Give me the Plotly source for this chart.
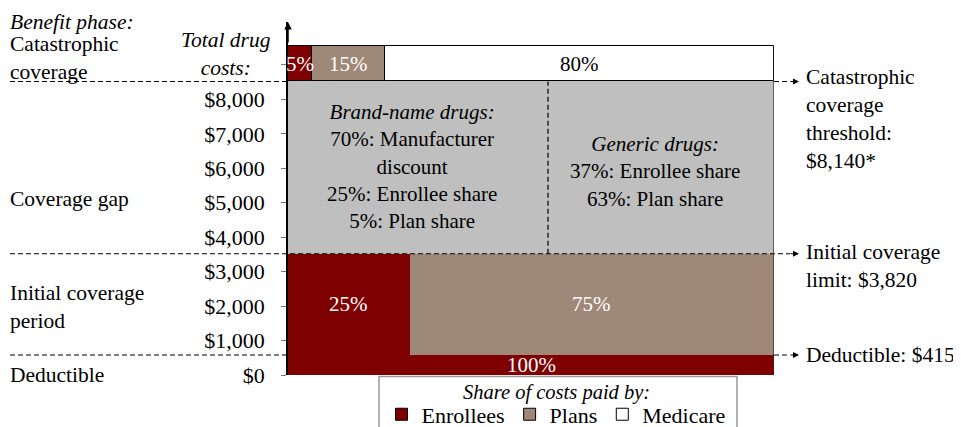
import plotly.graph_objects as go

# ---------------- data ----------------
band_names = ["Deductible", "Initial coverage period", "Coverage gap", "Catastrophic coverage"]
band_low = [0, 580, 3520, 8520]      # drawn band edges on the dollar axis
band_high = [580, 3520, 8520, 9550]
enrollee_share = [100, 25, 0, 5]
plan_share = [0, 75, 0, 15]
medicare_share = [0, 0, 0, 80]
gap_share = [0, 0, 100, 0]
gap_split_share = 53.5               # brand-name | generic divider

tick_vals = [0, 1000, 2000, 3000, 4000, 5000, 6000, 7000, 8000, 9000]
tick_text = ["$0", "$1,000", "$2,000", "$3,000", "$4,000", "$5,000",
             "$6,000", "$7,000", "$8,000", ""]

threshold_labels = ["Deductible: $415", "Initial coverage<br>limit: $3,820",
                    "Catastrophic<br>coverage<br>threshold:<br>$8,140*"]

brand_text = ("<i>Brand-name drugs:</i><br>70%: Manufacturer<br>discount<br>"
              "25%: Enrollee share<br>5%: Plan share")
generic_text = "<i>Generic drugs:</i><br>37%: Enrollee share<br>63%: Plan share"

# ---------------- style ----------------
FONT = "Liberation Serif, serif"
ENR = "#7F0000"
PLN = "#A08878"
MED = "#FFFFFF"
GAP = "#BFBFBF"
FS = 21          # in-chart text
FS_SIDE = 21.5   # phase / threshold labels
FS_TICK = 22
FS_LEG = 22

OFF = 8                      # page body margin
W, H = 961 - OFF, 427 - OFF
ML = 288 - OFF
MR = W - (774 - OFF)
MT = 22 - OFF
MB = H - (375.5 - OFF)
plot_h = H - MT - MB
plot_w = W - ML - MR
px_per_dollar = 34.5 / 1000
y_top = plot_h / px_per_dollar


def px(p):  # screen pixel -> paper x
    return (p - OFF - ML) / plot_w


def py(p):  # screen pixel -> paper y
    return (H - MB - (p - OFF)) / plot_h


CAT = 3  # index of catastrophic band


def band_bars(shares, base_shares):
    ys, ws, xs, bs, lw = [], [], [], [], []
    order = [CAT] + [i for i in range(len(shares)) if i != CAT]
    for i in order:
        if shares[i] > 0:
            ys.append((band_low[i] + band_high[i]) / 2)
            ws.append(band_high[i] - band_low[i])
            xs.append(shares[i])
            bs.append(base_shares[i])
            lw.append(1 if i == CAT else 0)
    return ys, ws, xs, bs, lw


zeros = [0] * len(band_names)
plan_base = [a for a in enrollee_share]
med_base = [a + b for a, b in zip(enrollee_share, plan_share)]

fig = go.Figure()
series = [
    ("gap", gap_share, zeros, GAP, False),
    ("Enrollees", enrollee_share, zeros, ENR, True),
    ("Plans", plan_share, plan_base, PLN, True),
    ("Medicare", medicare_share, med_base, MED, True),
]
for name, shares, bases, col, show in series:
    ys, ws, xs, bs, lw = band_bars(shares, bases)
    fig.add_trace(go.Bar(
        orientation="h", y=ys, x=xs, base=bs, width=ws, name=name,
        marker=dict(color=col, line=dict(color="#000000", width=lw)),
        showlegend=show, hoverinfo="skip",
    ))


def add_label(x, band, text, color):
    fig.add_annotation(x=x, y=(band_low[band] + band_high[band]) / 2, text=text,
                       showarrow=False, font=dict(family=FONT, size=FS, color=color))


add_label(enrollee_share[CAT] / 2, CAT, f"{enrollee_share[CAT]}%", "white")
add_label(enrollee_share[CAT] + plan_share[CAT] / 2, CAT, f"{plan_share[CAT]}%", "white")
add_label(med_base[CAT] + medicare_share[CAT] / 2, CAT, f"{medicare_share[CAT]}%", "black")
add_label(enrollee_share[1] / 2, 1, f"{enrollee_share[1]}%", "white")
add_label(enrollee_share[1] + plan_share[1] / 2, 1, f"{plan_share[1]}%", "white")
add_label(enrollee_share[0] / 2, 0, f"{enrollee_share[0]}%", "white")

fig.add_annotation(x=25.5, y=6044, text=brand_text, showarrow=False,
                   font=dict(family=FONT, size=FS, color="black"))
fig.add_annotation(x=75.6, y=5899, text=generic_text, showarrow=False,
                   font=dict(family=FONT, size=FS, color="black"))

# dividers
dash = "5px,3px"
left_x = px(10)
right_x = px(790)
tip_x = px(799)
for i, yb in enumerate([band_high[0], band_high[1], band_high[2]]):
    if i == 1:
        fig.add_shape(type="line", xref="paper", yref="y", x0=left_x, x1=right_x,
                      y0=yb, y1=yb, line=dict(color="black", width=1.2, dash=dash))
    else:
        fig.add_shape(type="line", xref="paper", yref="y", x0=left_x, x1=0,
                      y0=yb, y1=yb, line=dict(color="black", width=1.2, dash=dash))
        fig.add_shape(type="line", xref="paper", yref="y", x0=1, x1=right_x,
                      y0=yb, y1=yb, line=dict(color="black", width=1.2, dash=dash))
    fig.add_annotation(xref="paper", yref="y", x=tip_x, y=yb, ax=-10, ay=0,
                       showarrow=True, arrowhead=2, arrowsize=1, arrowwidth=1.2,
                       arrowcolor="black", text="")

fig.add_shape(type="line", xref="x", yref="y", x0=gap_split_share, x1=gap_split_share,
              y0=band_low[2], y1=band_high[2],
              line=dict(color="black", width=1.2, dash=dash))
fig.add_shape(type="line", xref="x", yref="y", x0=100, x1=100, y0=0, y1=band_high[3],
              line=dict(color="#222222", width=1.2))

# y axis arrow
fig.add_annotation(xref="x", yref="paper", x=0, y=1, ax=0, ay=22, showarrow=True,
                   arrowhead=2, arrowsize=1, arrowwidth=1.5, arrowcolor="black", text="")

left_labels = [("<i>Benefit phase:</i>", 22), ("Catastrophic<br>coverage", 58.5),
               ("Coverage gap", 199), ("Initial coverage<br>period", 307.5),
               ("Deductible", 376)]
for txt, yp in left_labels:
    fig.add_annotation(xref="paper", yref="paper", x=px(8), y=py(yp), text=txt,
                       xanchor="left", yanchor="middle", align="left", showarrow=False,
                       font=dict(family=FONT, size=FS_SIDE, color="black"))
fig.add_annotation(xref="paper", yref="paper", x=px(226), y=py(54.5),
                   text="<i>Total drug<br>costs:</i>", xanchor="center", yanchor="middle",
                   align="center", showarrow=False,
                   font=dict(family=FONT, size=FS_SIDE, color="black"))

for txt, yp in zip(threshold_labels, [355, 266.5, 119]):
    fig.add_annotation(xref="paper", yref="paper", x=px(804), y=py(yp), text=txt,
                       xanchor="left", yanchor="middle", align="left", showarrow=False,
                       font=dict(family=FONT, size=FS_SIDE, color="black"))

# legend frame and title
fig.add_shape(type="rect", xref="paper", yref="paper", x0=px(379), x1=px(737),
              y0=py(440), y1=py(377), line=dict(color="#999999", width=1.5),
              fillcolor="white", layer="above")
fig.add_annotation(xref="paper", yref="paper", x=px(556), y=py(393),
                   text="<i>Share of costs paid by:</i>", showarrow=False,
                   xanchor="center", yanchor="middle",
                   font=dict(family=FONT, size=20.5, color="black"))

fig.update_layout(
    width=W, height=H,
    margin=dict(l=ML, r=MR, t=MT, b=MB, autoexpand=False),
    paper_bgcolor="white", plot_bgcolor="white",
    barmode="overlay", bargap=0,
    font=dict(family=FONT, size=FS, color="black"),
    xaxis=dict(range=[0, 100], showgrid=False, zeroline=False, showticklabels=False,
               showline=False, ticks=""),
    yaxis=dict(range=[0, y_top], showgrid=False, zeroline=False, tickvals=tick_vals,
               ticktext=tick_text, ticks="outside", ticklen=5, tickcolor="#777777",
               showline=True, linecolor="black", linewidth=1.5, ticklabelstandoff=12,
               tickfont=dict(family=FONT, size=FS_TICK, color="black")),
    legend=dict(orientation="h", x=px(556), xanchor="center", y=py(415), yanchor="middle",
                borderwidth=0, bgcolor="rgba(0,0,0,0)",
                font=dict(family=FONT, size=FS_LEG, color="black"),
                traceorder="normal"),
)

fig.write_html("out.html")
